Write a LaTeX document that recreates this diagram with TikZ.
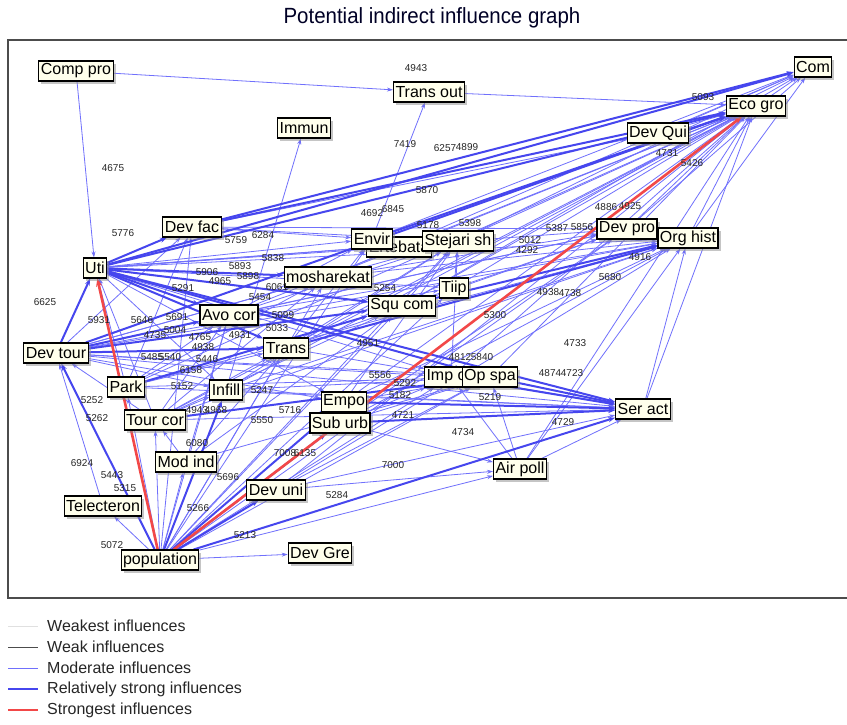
\documentclass[tikz,border=0pt]{standalone}
\usepackage{fontspec}
\setmainfont{Liberation Sans}
\usetikzlibrary{arrows.meta, shadows}

\definecolor{modblue}{RGB}{112,112,252}
\definecolor{strblue}{RGB}{70,70,238}
\definecolor{redline}{RGB}{242,72,72}
\definecolor{boxfill}{RGB}{255,255,236}
\pgfdeclarelayer{edges}
\pgfsetlayers{edges,main}

\begin{document}
\begin{tikzpicture} [x=1pt, y=-1pt,
        var/.style = {draw, line width=1.1pt, fill=boxfill, inner xsep=2pt, inner ysep=1pt,
            minimum height=20pt, font=\fontsize{16}{16}\selectfont,
            drop shadow={shadow xshift=2.5pt, shadow yshift=-2.5pt, fill=black!45, opacity=0.5}},
        lbl/.style = {font=\fontsize{10}{10}\selectfont, text=black!85, inner sep=0pt},
        modinf/.style = {draw=modblue, line width=0.8pt, -{Stealth[length=6pt, width=4pt]}},
        relinf/.style = {draw=strblue, line width=2pt, -{Stealth[length=7pt, width=5pt]}},
        maxinf/.style = {draw=redline, line width=2.6pt, -{Stealth[length=8pt, width=6pt]}}]
        \useasboundingbox (0,0) rectangle (847,724);
        \node (title) [font=\fontsize{22}{22}\selectfont, text=black!85!blue] at (432,18) {\scalebox{0.93}[1]{Potential indirect influence graph}};

        % factors
        \node (compro) [var] at (76,71) {Comp pro};
        \node (transout) [var] at (429,92) {Trans out};
        \node (com) [var] at (813,67) {Com};
        \node (ecogro) [var] at (756,106) {Eco gro};
        \node (immun) [var] at (304,128) {Immun};
        \node (devqui) [var] at (658,133) {Dev Qui};
        \node (devfac) [var] at (192,227) {Dev fac};
        \node (uti) [var] at (95,268) {Uti};
        \node (ertebata) [var] at (399,247) {Ertebata};
        \node (envir) [var] at (372,239) {Envir};
        \node (stejari) [var] at (458,241) {Stejari sh};
        \node (devpro) [var] at (627,229) {Dev pro};
        \node (orghist) [var] at (688,238) {Org hist};
        \node (mosharekat) [var] at (328,277) {mosharekat};
        \node (tiip) [var] at (454,288) {Tiip};
        \node (squcom) [var] at (402,306) {Squ com};
        \node (avocor) [var] at (229,315) {Avo cor};
        \node (devtour) [var] at (56,353) {Dev tour};
        \node (trans) [var] at (286,348) {Trans};
        \node (park) [var] at (126,387) {Park};
        \node (infill) [var] at (226,390) {Infill};
        \node (imp) [var] at (451,377) {Imp op};
        \node (opspa) [var] at (490,377) {Op spa};
        \node (seract) [var] at (643,409) {Ser act};
        \node (empo) [var] at (344,402) {Empo};
        \node (tourcor) [var] at (155,420) {Tour cor};
        \node (suburb) [var] at (340,423) {Sub urb};
        \node (modind) [var] at (186,462) {Mod ind};
        \node (airpoll) [var] at (520,469) {Air poll};
        \node (devuni) [var] at (276,490) {Dev uni};
        \node (telecteron) [var] at (103,506) {Telecteron};
        \node (population) [var] at (160,560) {population};
        \node (devgre) [var] at (320,553) {Dev Gre};

        \begin{pgfonlayer}{edges}
        \fill [white] (0,0) rectangle (847,724);
        \draw [black!70, line width=1.4pt] (850,40) -- (8,40) -- (8,598) -- (850,598);

        \foreach \a/\b in {compro/uti, compro/transout, transout/ecogro, envir/transout, infill/immun,
                devqui/com, devpro/com, orghist/com, stejari/com, envir/com, mosharekat/com, ecogro/com, squcom/com,
                devqui/ecogro, stejari/ecogro, mosharekat/ecogro, squcom/ecogro, tiip/ecogro, devpro/ecogro,
                orghist/ecogro, seract/ecogro, airpoll/ecogro, opspa/ecogro, imp/ecogro, empo/ecogro, trans/ecogro,
                infill/ecogro, avocor/ecogro, park/ecogro, tourcor/ecogro, suburb/ecogro, devuni/ecogro,
                uti/stejari, uti/envir, uti/tiip, uti/imp, uti/orghist,
                uti/devpro, uti/infill, uti/empo, uti/ertebata,
                devtour/tiip, devtour/opspa, devtour/seract, devtour/imp, devtour/empo,
                devtour/orghist, devtour/devpro, devtour/stejari, devtour/mosharekat, devtour/devfac, devtour/infill,
                park/uti, park/avocor, park/trans, park/opspa, park/seract, park/orghist, park/mosharekat, park/devfac,
                tourcor/uti, tourcor/devtour, tourcor/infill, tourcor/trans, tourcor/mosharekat, tourcor/squcom,
                tourcor/orghist, tourcor/seract, tourcor/avocor,
                population/telecteron, population/tourcor, population/modind, population/park, population/devfac,
                population/avocor, population/trans, population/mosharekat, population/squcom, population/stejari,
                population/tiip, population/imp, population/opspa, population/airpoll, population/devgre,
                population/orghist, population/devpro, population/envir,
                telecteron/devtour, modind/tourcor, modind/avocor, modind/trans, modind/squcom, modind/opspa,
                suburb/airpoll, suburb/opspa, suburb/imp, suburb/orghist, suburb/devpro,
                empo/opspa, empo/orghist, empo/stejari,
                devuni/seract, devuni/airpoll, devuni/opspa,
                airpoll/seract, airpoll/opspa, airpoll/imp, airpoll/orghist, seract/orghist,
                trans/devpro, trans/seract, trans/stejari, trans/envir,
                avocor/orghist, avocor/stejari, avocor/envir, avocor/devpro,
                squcom/stejari, squcom/devpro, tiip/stejari, imp/stejari,
                mosharekat/devpro, mosharekat/orghist,
                infill/seract, infill/opspa, infill/stejari, infill/orghist,
                devfac/stejari, devfac/envir, devfac/devqui, devfac/devpro}
            \path [modinf] (\a) edge (\b);

        \foreach \a/\b in {uti/ecogro, uti/devfac, uti/com, uti/avocor, uti/mosharekat, uti/trans, uti/squcom,
                uti/opspa, uti/seract,
                devtour/uti, devtour/ecogro, devtour/avocor, devtour/trans, devtour/squcom, devfac/ecogro, devfac/com,
                population/devtour, population/empo, population/suburb, population/seract, population/devuni,
                population/infill, suburb/seract, empo/seract, trans/orghist, squcom/orghist, park/squcom,
                tourcor/opspa, imp/seract, opspa/seract, envir/ecogro}
            \path [relinf] (\a) edge (\b);

        \path [maxinf] (population) edge (uti);
        \path [maxinf] (population) edge (ecogro);
        \end{pgfonlayer}

        % influence values
        \foreach \x/\y/\v in {416/68/4943, 703/97/5093, 405/144/7419, 445/148/6257, 467/147/4899,
                113/168/4675, 667/153/4731, 692/163/5426, 427/190/5870, 123/233/5776,
                372/213/4692, 393/209/6845, 428/225/5178, 470/223/5398, 557/228/5387, 582/227/5856,
                530/240/5012, 527/250/4292, 606/207/4886, 630/206/4925, 640/257/4916, 610/277/5680,
                548/292/4938, 570/293/4738, 495/315/5300, 575/343/4733, 550/373/4874, 572/373/4723,
                490/397/5219, 563/422/4729, 463/432/4734, 403/415/4721, 393/465/7000, 337/495/5284,
                245/535/5213, 198/508/5266, 228/477/5696, 285/453/7008, 305/453/6135, 197/443/6080,
                82/463/6924, 112/475/5443, 125/488/5315, 112/545/5072, 92/400/5252, 97/418/5262,
                45/302/6625, 99/320/5931, 142/320/5646, 177/317/5691, 175/330/5004, 155/335/4735,
                200/337/4765, 203/347/4938, 152/357/5485, 170/357/5540, 207/359/5446, 191/370/6158,
                182/386/5152, 197/410/4943, 216/410/4968, 236/240/5759, 263/235/6284, 273/258/5838,
                240/266/5893, 248/276/5898, 207/272/5906, 220/281/4965, 183/288/5291, 277/287/6061,
                260/297/5454, 240/335/4931, 277/328/5033, 283/315/5099, 385/288/5254, 368/343/4951,
                460/357/4812, 482/357/5840, 380/375/5556, 405/383/5292, 400/395/5182, 262/390/5247,
                290/410/5716, 262/420/5550}
            \node [lbl] at (\x,\y) {\v};

        % legend
        \foreach \y/\c/\w/\t in {626/black!12/0.8/Weakest influences, 647/black!70/0.8/Weak influences,
                668/modblue/0.9/Moderate influences, 689/strblue/2.2/Relatively strong influences,
                710/redline/2.4/Strongest influences}
            {
            \draw [\c, line width=\w pt] (8,\y) -- (38,\y);
            \node [anchor=west, font=\fontsize{16}{16}\selectfont, text=black!85, inner sep=0pt] at (47,\y) {\t};
            }
    \end{tikzpicture}
\end{document}
